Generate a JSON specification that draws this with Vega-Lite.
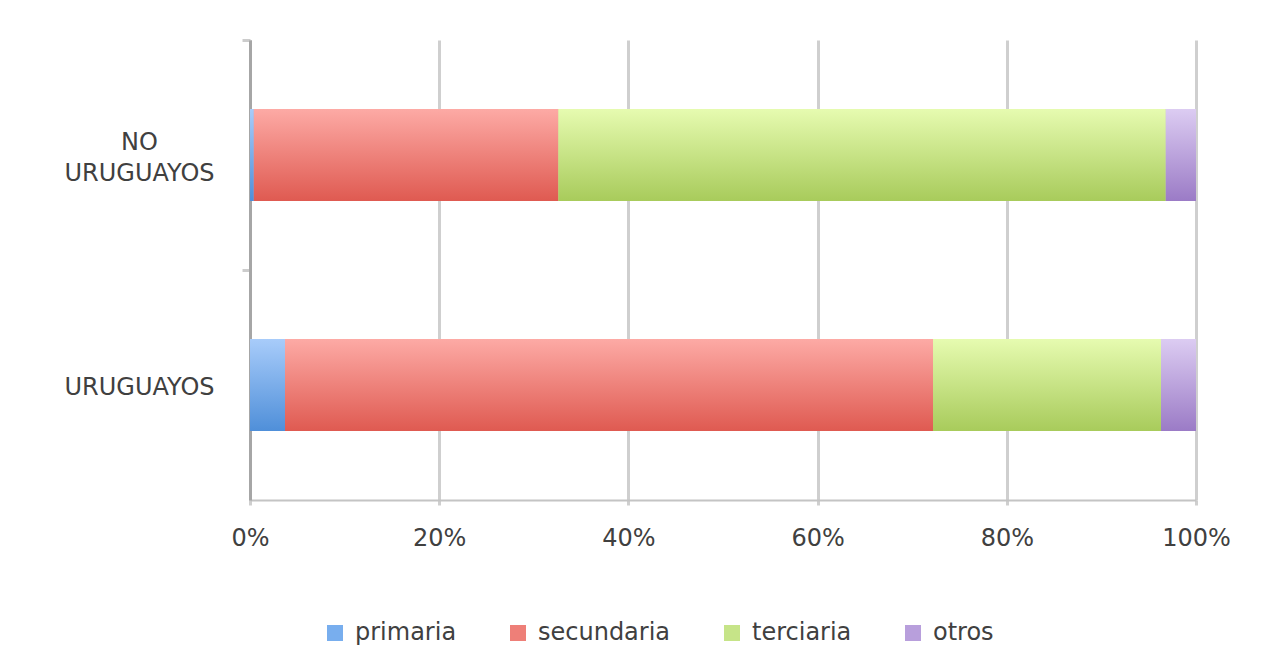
{
  "$schema": "https://vega.github.io/schema/vega-lite/v6.json",
  "width": 946,
  "height": 460,
  "autosize": "none",
  "padding": {"left": 250, "top": 40, "right": 86, "bottom": 169},
  "background": "white",
  "config": {
    "view": {"stroke": null},
    "font": "DejaVu Sans"
  },
  "data": {
    "values": [
      {"grupo": "NO URUGUAYOS", "nivel": "primaria", "orden": 1, "pct": 0.4},
      {"grupo": "NO URUGUAYOS", "nivel": "secundaria", "orden": 2, "pct": 32.2},
      {"grupo": "NO URUGUAYOS", "nivel": "terciaria", "orden": 3, "pct": 64.2},
      {"grupo": "NO URUGUAYOS", "nivel": "otros", "orden": 4, "pct": 3.2},
      {"grupo": "URUGUAYOS", "nivel": "primaria", "orden": 1, "pct": 3.7},
      {"grupo": "URUGUAYOS", "nivel": "secundaria", "orden": 2, "pct": 68.5},
      {"grupo": "URUGUAYOS", "nivel": "terciaria", "orden": 3, "pct": 24.1},
      {"grupo": "URUGUAYOS", "nivel": "otros", "orden": 4, "pct": 3.7}
    ]
  },
  "transform": [
    {"stack": "pct", "groupby": ["grupo"], "sort": [{"field": "orden", "order": "ascending"}], "offset": "normalize", "as": ["x0", "x1"]}
  ],
  "encoding": {
    "y": {
      "field": "grupo",
      "type": "nominal",
      "sort": ["NO URUGUAYOS", "URUGUAYOS"],
      "scale": {"paddingInner": 0.6, "paddingOuter": 0.3},
      "axis": {
        "title": null,
        "labelExpr": "datum.value == 'NO URUGUAYOS' ? ['NO', 'URUGUAYOS'] : datum.value",
        "labelAlign": "center",
        "labelBaseline": "middle",
        "labelPadding": 103,
        "labelLineHeight": 31,
        "labelFontSize": 24,
        "labelColor": "#404040",
        "labelFont": "DejaVu Sans",
        "labelLimit": 400,
        "labelOffset": {"condition": {"test": "datum.value == 'NO URUGUAYOS'", "value": 102}, "value": 117},
        "domainColor": "#a6a6a6",
        "domainWidth": 3,
        "tickOffset": -115,
        "tickColor": "#cccccc",
        "tickWidth": 3,
        "tickSize": 8,
        "grid": false
      }
    },
    "x": {
      "field": "x0",
      "type": "quantitative",
      "scale": {"domain": [0, 1], "nice": false},
      "axis": {
        "title": null,
        "format": ".0%",
        "values": [0, 0.2, 0.4, 0.6, 0.8, 1],
        "labelFontSize": 24,
        "labelColor": "#404040",
        "labelFont": "DejaVu Sans",
        "labelPadding": 21,
        "labelFlush": false,
        "labelOverlap": false,
        "labelBound": false,
        "grid": true,
        "gridColor": {"condition": {"test": "datum.value === 0", "value": "#a6a6a6"}, "value": "#cfcfcf"},
        "gridWidth": 3,
        "domainColor": "#c4c4c4",
        "domainWidth": 2,
        "ticks": true,
        "tickSize": 5,
        "tickColor": "#cfcfcf",
        "tickWidth": 3
      }
    },
    "x2": {"field": "x1"}
  },
  "layer": [
    {
      "mark": {"type": "bar"},
      "encoding": {
        "color": {
          "field": "nivel",
          "type": "nominal",
          "scale": {
            "domain": ["primaria", "secundaria", "terciaria", "otros"],
            "range": ["#78aeee", "#ee7f78", "#c6e488", "#b89fdc"]
          },
          "legend": {
            "title": null,
            "orient": "none",
            "legendX": 73,
            "legendY": 581,
            "direction": "horizontal",
            "symbolType": "square",
            "symbolSize": 256,
            "symbolStrokeWidth": 0,
            "labelFontSize": 24,
            "labelFont": "DejaVu Sans",
            "labelColor": "#404040",
            "labelOffset": 8,
            "columnPadding": 49,
            "labelLimit": 300
          }
        }
      }
    },
    {
      "transform": [{"filter": "datum.nivel == 'primaria'"}],
      "mark": {"type": "bar", "color": {"gradient": "linear", "x1": 0, "y1": 0, "x2": 0, "y2": 1, "stops": [{"offset": 0, "color": "#a8ccfa"}, {"offset": 1, "color": "#4f8fd9"}]}}
    },
    {
      "transform": [{"filter": "datum.nivel == 'secundaria'"}],
      "mark": {"type": "bar", "color": {"gradient": "linear", "x1": 0, "y1": 0, "x2": 0, "y2": 1, "stops": [{"offset": 0, "color": "#fdaaa5"}, {"offset": 1, "color": "#df5a51"}]}}
    },
    {
      "transform": [{"filter": "datum.nivel == 'terciaria'"}],
      "mark": {"type": "bar", "color": {"gradient": "linear", "x1": 0, "y1": 0, "x2": 0, "y2": 1, "stops": [{"offset": 0, "color": "#e6fbb0"}, {"offset": 1, "color": "#a8cb5b"}]}}
    },
    {
      "transform": [{"filter": "datum.nivel == 'otros'"}],
      "mark": {"type": "bar", "color": {"gradient": "linear", "x1": 0, "y1": 0, "x2": 0, "y2": 1, "stops": [{"offset": 0, "color": "#dcccf2"}, {"offset": 1, "color": "#9b7bc6"}]}}
    }
  ]
}
